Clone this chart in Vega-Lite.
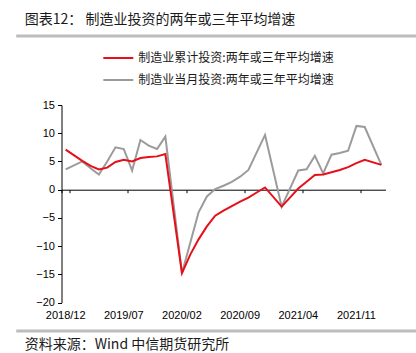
{
  "$schema": "https://vega.github.io/schema/vega-lite/v6.json",
  "padding": {"left": 14, "top": 12, "right": 0, "bottom": 0},
  "config": {
    "view": {"stroke": null},
    "font": "Noto Sans CJK SC"
  },
  "datasets": {
    "series": [
      {"month": "2018/12", "series": "制造业当月投资:两年或三年平均增速", "value": 3.6},
      {"month": "2019/02", "series": "制造业当月投资:两年或三年平均增速", "value": 5.0},
      {"month": "2019/03", "series": "制造业当月投资:两年或三年平均增速", "value": 3.8},
      {"month": "2019/04", "series": "制造业当月投资:两年或三年平均增速", "value": 2.7},
      {"month": "2019/05", "series": "制造业当月投资:两年或三年平均增速", "value": 5.0},
      {"month": "2019/06", "series": "制造业当月投资:两年或三年平均增速", "value": 7.5},
      {"month": "2019/07", "series": "制造业当月投资:两年或三年平均增速", "value": 7.2},
      {"month": "2019/08", "series": "制造业当月投资:两年或三年平均增速", "value": 3.4},
      {"month": "2019/09", "series": "制造业当月投资:两年或三年平均增速", "value": 8.8},
      {"month": "2019/10", "series": "制造业当月投资:两年或三年平均增速", "value": 7.8},
      {"month": "2019/11", "series": "制造业当月投资:两年或三年平均增速", "value": 7.2},
      {"month": "2019/12", "series": "制造业当月投资:两年或三年平均增速", "value": 9.4},
      {"month": "2020/02", "series": "制造业当月投资:两年或三年平均增速", "value": -14.8},
      {"month": "2020/03", "series": "制造业当月投资:两年或三年平均增速", "value": -9.4},
      {"month": "2020/04", "series": "制造业当月投资:两年或三年平均增速", "value": -4.0},
      {"month": "2020/05", "series": "制造业当月投资:两年或三年平均增速", "value": -1.2},
      {"month": "2020/06", "series": "制造业当月投资:两年或三年平均增速", "value": 0.1},
      {"month": "2020/07", "series": "制造业当月投资:两年或三年平均增速", "value": 0.7},
      {"month": "2020/08", "series": "制造业当月投资:两年或三年平均增速", "value": 1.4},
      {"month": "2020/09", "series": "制造业当月投资:两年或三年平均增速", "value": 2.3},
      {"month": "2020/10", "series": "制造业当月投资:两年或三年平均增速", "value": 3.5},
      {"month": "2020/11", "series": "制造业当月投资:两年或三年平均增速", "value": 6.6},
      {"month": "2020/12", "series": "制造业当月投资:两年或三年平均增速", "value": 9.7},
      {"month": "2021/02", "series": "制造业当月投资:两年或三年平均增速", "value": -3.0},
      {"month": "2021/03", "series": "制造业当月投资:两年或三年平均增速", "value": 0.2},
      {"month": "2021/04", "series": "制造业当月投资:两年或三年平均增速", "value": 3.4},
      {"month": "2021/05", "series": "制造业当月投资:两年或三年平均增速", "value": 3.6},
      {"month": "2021/06", "series": "制造业当月投资:两年或三年平均增速", "value": 6.0},
      {"month": "2021/07", "series": "制造业当月投资:两年或三年平均增速", "value": 2.9},
      {"month": "2021/08", "series": "制造业当月投资:两年或三年平均增速", "value": 6.2},
      {"month": "2021/09", "series": "制造业当月投资:两年或三年平均增速", "value": 6.5},
      {"month": "2021/10", "series": "制造业当月投资:两年或三年平均增速", "value": 6.9},
      {"month": "2021/11", "series": "制造业当月投资:两年或三年平均增速", "value": 11.3},
      {"month": "2021/12", "series": "制造业当月投资:两年或三年平均增速", "value": 11.1},
      {"month": "2022/02", "series": "制造业当月投资:两年或三年平均增速", "value": 4.4},
      {"month": "2018/12", "series": "制造业累计投资:两年或三年平均增速", "value": 7.1},
      {"month": "2019/02", "series": "制造业累计投资:两年或三年平均增速", "value": 5.1},
      {"month": "2019/03", "series": "制造业累计投资:两年或三年平均增速", "value": 4.2},
      {"month": "2019/04", "series": "制造业累计投资:两年或三年平均增速", "value": 3.6},
      {"month": "2019/05", "series": "制造业累计投资:两年或三年平均增速", "value": 3.9},
      {"month": "2019/06", "series": "制造业累计投资:两年或三年平均增速", "value": 4.9},
      {"month": "2019/07", "series": "制造业累计投资:两年或三年平均增速", "value": 5.3},
      {"month": "2019/08", "series": "制造业累计投资:两年或三年平均增速", "value": 5.0},
      {"month": "2019/09", "series": "制造业累计投资:两年或三年平均增速", "value": 5.6},
      {"month": "2019/10", "series": "制造业累计投资:两年或三年平均增速", "value": 5.8},
      {"month": "2019/11", "series": "制造业累计投资:两年或三年平均增速", "value": 5.9},
      {"month": "2019/12", "series": "制造业累计投资:两年或三年平均增速", "value": 6.3},
      {"month": "2020/02", "series": "制造业累计投资:两年或三年平均增速", "value": -14.8},
      {"month": "2020/03", "series": "制造业累计投资:两年或三年平均增速", "value": -11.5},
      {"month": "2020/04", "series": "制造业累计投资:两年或三年平均增速", "value": -8.8},
      {"month": "2020/05", "series": "制造业累计投资:两年或三年平均增速", "value": -6.5},
      {"month": "2020/06", "series": "制造业累计投资:两年或三年平均增速", "value": -4.6},
      {"month": "2020/07", "series": "制造业累计投资:两年或三年平均增速", "value": -3.7},
      {"month": "2020/08", "series": "制造业累计投资:两年或三年平均增速", "value": -2.9},
      {"month": "2020/09", "series": "制造业累计投资:两年或三年平均增速", "value": -2.1},
      {"month": "2020/10", "series": "制造业累计投资:两年或三年平均增速", "value": -1.4},
      {"month": "2020/11", "series": "制造业累计投资:两年或三年平均增速", "value": -0.5},
      {"month": "2020/12", "series": "制造业累计投资:两年或三年平均增速", "value": 0.4},
      {"month": "2021/02", "series": "制造业累计投资:两年或三年平均增速", "value": -3.0},
      {"month": "2021/03", "series": "制造业累计投资:两年或三年平均增速", "value": -1.4},
      {"month": "2021/04", "series": "制造业累计投资:两年或三年平均增速", "value": 0.2},
      {"month": "2021/05", "series": "制造业累计投资:两年或三年平均增速", "value": 1.4},
      {"month": "2021/06", "series": "制造业累计投资:两年或三年平均增速", "value": 2.6},
      {"month": "2021/07", "series": "制造业累计投资:两年或三年平均增速", "value": 2.7},
      {"month": "2021/08", "series": "制造业累计投资:两年或三年平均增速", "value": 3.1},
      {"month": "2021/09", "series": "制造业累计投资:两年或三年平均增速", "value": 3.5},
      {"month": "2021/10", "series": "制造业累计投资:两年或三年平均增速", "value": 4.0},
      {"month": "2021/11", "series": "制造业累计投资:两年或三年平均增速", "value": 4.7},
      {"month": "2021/12", "series": "制造业累计投资:两年或三年平均增速", "value": 5.3},
      {"month": "2022/02", "series": "制造业累计投资:两年或三年平均增速", "value": 4.4}
    ],
    "sep": [
      {"start": 0, "end": 1, "level": 0}
    ],
    "sepBottom": [
      {"start": 0, "end": 1, "level": 1}
    ]
  },
  "vconcat": [
    {
      "width": 414.6,
      "height": 1,
      "data": {"name": "sep"},
      "mark": {"type": "rule", "stroke": "#bdbdbd", "strokeWidth": 3, "strokeCap": "butt"},
      "encoding": {
        "x": {"field": "start", "type": "quantitative", "scale": {"domain": [0, 1], "nice": false, "zero": false}, "axis": null},
        "x2": {"field": "end"},
        "y": {"field": "level", "type": "quantitative", "scale": {"domain": [0, 1], "nice": false}, "axis": null}
      },
      "title": {
        "text": "图表12： 制造业投资的两年或三年平均增速",
        "anchor": "start",
        "dx": 10,
        "offset": 8,
        "font": "Noto Sans CJK SC",
        "fontSize": 14,
        "fontWeight": "normal",
        "color": "#1a1a1a"
      }
    },
    {
      "width": 414.6,
      "height": 12.7,
      "data": {"values": [{}]},
      "mark": {"type": "text"},
      "encoding": {"text": {"value": ""}}
    },
    {
      "width": 324,
      "height": 197.6,
      "data": {"name": "series"},
      "layer": [
        {
          "transform": [{"filter": "datum.series === '制造业当月投资:两年或三年平均增速'"}],
          "mark": {"type": "line", "strokeWidth": 2},
          "encoding": {
            "x": {
              "field": "month", "type": "ordinal",
              "scale": {"type": "band", "paddingInner": 0, "paddingOuter": 0,
                "domain": ["2018/12","2019/01","2019/02","2019/03","2019/04","2019/05","2019/06","2019/07","2019/08","2019/09","2019/10","2019/11","2019/12","2020/01","2020/02","2020/03","2020/04","2020/05","2020/06","2020/07","2020/08","2020/09","2020/10","2020/11","2020/12","2021/01","2021/02","2021/03","2021/04","2021/05","2021/06","2021/07","2021/08","2021/09","2021/10","2021/11","2021/12","2022/01","2022/02"]},
              "axis": {
                "orient": "bottom", "offset": -112.9, "title": null, "labels": false,
                "domain": true, "domainColor": "#000000", "domainWidth": 1,
                "ticks": true, "tickColor": "#000000", "tickSize": 3, "tickBand": "extent",
                "values": ["2018/12","2019/07","2020/02","2020/09","2021/04","2021/11"],
                "grid": false
              }
            },
            "y": {
              "field": "value", "type": "quantitative",
              "scale": {"domain": [-20, 15], "nice": false, "zero": false},
              "axis": {
                "title": null, "grid": false, "values": [-20,-15,-10,-5,0,5,10,15],
                "labelOverlap": false,
                "domainColor": "#000000", "tickColor": "#000000", "tickSize": 4,
                "labelPadding": 3, "labelFont": "Liberation Sans", "labelFontSize": 11, "labelColor": "#000000"
              }
            },
            "color": {
              "field": "series", "type": "nominal",
              "scale": {"domain": ["制造业累计投资:两年或三年平均增速", "制造业当月投资:两年或三年平均增速"], "range": ["#e60f1a", "#9b9b9b"]},
              "legend": {
                "orient": "none", "legendX": 86.3, "legendY": 7, "title": null,
                "symbolType": "stroke", "symbolSize": 900, "symbolStrokeWidth": 2,
                "labelFont": "Noto Sans CJK SC", "labelFontSize": 12, "labelColor": "#1a1a1a",
                "labelOffset": 4, "rowPadding": -3, "padding": 0, "labelLimit": 400
              }
            }
          }
        },
        {
          "transform": [{"filter": "datum.series === '制造业累计投资:两年或三年平均增速'"}],
          "mark": {"type": "line", "strokeWidth": 2},
          "encoding": {
            "x": {
              "field": "month", "type": "ordinal",
              "axis": {
                "orient": "bottom", "title": null, "labels": true, "domain": false, "ticks": false,
                "values": ["2018/12","2019/07","2020/02","2020/09","2021/04","2021/11"],
                "labelAngle": 0, "labelPadding": 7, "labelFont": "Liberation Sans", "labelFontSize": 11, "labelColor": "#000000",
                "grid": false
              }
            },
            "y": {
              "field": "value", "type": "quantitative",
              "axis": {
                "title": null, "grid": false, "values": [-20,-15,-10,-5,0,5,10,15],
                "labelOverlap": false,
                "domainColor": "#000000", "tickColor": "#000000", "tickSize": 4,
                "labelPadding": 3, "labelFont": "Liberation Sans", "labelFontSize": 11, "labelColor": "#000000"
              }
            },
            "color": {"field": "series", "type": "nominal"}
          }
        }
      ],
      "resolve": {"axis": {"x": "independent"}}
    },
    {
      "width": 414.6,
      "height": 1,
      "data": {"name": "sepBottom"},
      "mark": {"type": "rule", "stroke": "#bdbdbd", "strokeWidth": 3, "strokeCap": "butt"},
      "encoding": {
        "x": {"field": "start", "type": "quantitative", "scale": {"domain": [0, 1], "nice": false, "zero": false}, "axis": null},
        "x2": {"field": "end"},
        "y": {"field": "level", "type": "quantitative", "scale": {"domain": [0, 1], "nice": false}, "axis": null}
      },
      "title": {
        "text": "资料来源：Wind 中信期货研究所",
        "orient": "bottom",
        "anchor": "start",
        "dx": 10,
        "offset": 5,
        "font": "Noto Sans CJK SC",
        "fontSize": 14,
        "fontWeight": "normal",
        "color": "#1a1a1a"
      }
    }
  ],
  "spacing": 28,
  "center": true,
  "bounds": "flush"
}
